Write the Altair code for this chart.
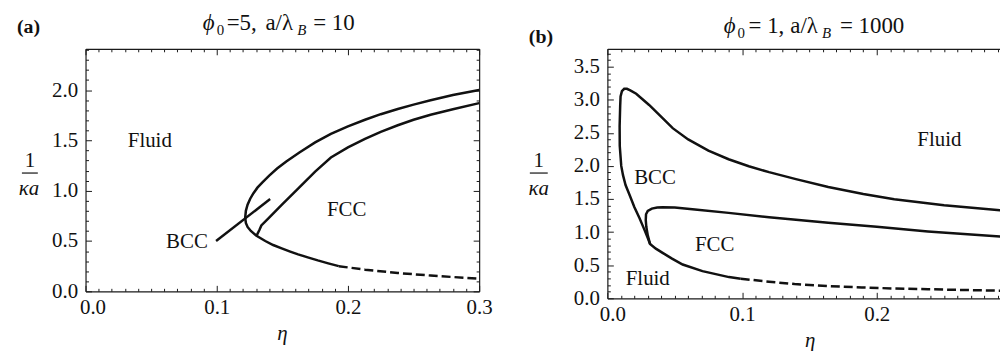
import altair as alt
import pandas as pd

SERIF = "Liberation Serif"
INK = "#111111"
FRAME = "#1a1a1a"

# ---------------- Panel (a): phi0 = 5, a/lambda_B = 10 ----------------
a_outer_eta = [0.300, 0.280, 0.263, 0.250, 0.238, 0.225, 0.213, 0.200, 0.187, 0.175,
               0.163, 0.153, 0.146, 0.140, 0.135, 0.131, 0.128, 0.1255, 0.1235, 0.1222,
               0.1217, 0.1222, 0.1235, 0.126, 0.130, 0.137, 0.143, 0.1495, 0.156, 0.162,
               0.170, 0.177, 0.185, 0.193]
a_outer_v = [2.000, 1.950, 1.898, 1.855, 1.812, 1.760, 1.705, 1.640, 1.565, 1.480,
             1.380, 1.290, 1.220, 1.150, 1.085, 1.030, 0.975, 0.920, 0.860, 0.800,
             0.733, 0.680, 0.640, 0.600, 0.555, 0.500, 0.460, 0.427, 0.395, 0.367,
             0.335, 0.307, 0.278, 0.250]
a_dash_eta = [0.193, 0.213, 0.238, 0.263, 0.280, 0.300]
a_dash_v = [0.250, 0.215, 0.182, 0.157, 0.142, 0.126]
a_inner_eta = [0.300, 0.280, 0.263, 0.250, 0.238, 0.225, 0.213, 0.200, 0.187, 0.175,
               0.162, 0.1495, 0.139, 0.134, 0.1325, 0.131, 0.1305]
a_inner_v = [1.870, 1.810, 1.755, 1.705, 1.650, 1.585, 1.515, 1.430, 1.330, 1.190,
             1.020, 0.860, 0.720, 0.655, 0.610, 0.570, 0.550]
a_bcc_eta = [0.0995, 0.1407]
a_bcc_v = [0.500, 0.917]
a_label_text = ["Fluid", "BCC", "FCC"]
a_label_eta = [0.049, 0.0773, 0.199]
a_label_v = [1.49, 0.49, 0.81]
a_xmajor = [0.0, 0.1, 0.2, 0.3]
a_ymajor = [0.0, 0.5, 1.0, 1.5, 2.0]

# ---------------- Panel (b): phi0 = 1, a/lambda_B = 1000 ----------------
b_outer_eta = [0.300, 0.2915, 0.250, 0.213, 0.190, 0.164, 0.140, 0.120, 0.105, 0.090, 0.075,
               0.060, 0.0485, 0.041, 0.031, 0.0214, 0.017, 0.0145, 0.0125, 0.0108, 0.0098,
               0.0095, 0.0091, 0.0092, 0.0103, 0.0116, 0.0135, 0.0165, 0.0200, 0.0239, 0.027,
               0.030, 0.0317, 0.036, 0.041, 0.048, 0.0559, 0.0706, 0.0903, 0.099]
b_outer_v = [1.315, 1.330, 1.405, 1.495, 1.575, 1.680, 1.800, 1.905, 1.995, 2.100, 2.230,
             2.400, 2.570, 2.720, 2.920, 3.090, 3.140, 3.165, 3.165, 3.130, 3.050,
             2.900, 2.600, 2.300, 2.000, 1.860, 1.710, 1.560, 1.380, 1.210, 1.060,
             0.910, 0.820, 0.750, 0.686, 0.600, 0.510, 0.410, 0.320, 0.295]
b_dash_eta = [0.099, 0.120, 0.139, 0.164, 0.189, 0.213, 0.238, 0.265, 0.2915, 0.300]
b_dash_v = [0.295, 0.250, 0.215, 0.185, 0.163, 0.148, 0.137, 0.125, 0.115, 0.112]
b_inner_eta = [0.0317, 0.0300, 0.0289, 0.0285, 0.0287, 0.0300, 0.0330, 0.0370, 0.0410, 0.0500,
               0.0650, 0.0900, 0.1200, 0.1640, 0.2000, 0.2380, 0.2915, 0.300]
b_inner_v = [0.820, 0.950, 1.080, 1.180, 1.270, 1.320, 1.355, 1.370, 1.375, 1.370,
             1.340, 1.290, 1.225, 1.140, 1.080, 1.010, 0.935, 0.925]
b_label_text = ["Fluid", "BCC", "FCC", "Fluid"]
b_label_eta = [0.2465, 0.0354, 0.0797, 0.030]
b_label_v = [2.387, 1.817, 0.81, 0.293]
b_xmajor = [0.0, 0.1, 0.2]
b_ymajor = [0.0, 0.5, 1.0, 1.5, 2.0, 2.5, 3.0, 3.5]

x_minor = [round(i * 0.01, 2) for i in range(1, 30) if i % 10]
a_yminor = [round(i * 0.1, 1) for i in range(1, 25) if i % 5]
b_yminor = [round(i * 0.1, 1) for i in range(1, 38) if i % 5]


def seg_df(segs):
    rows = []
    for name, es, vs in segs:
        for i, (e, v) in enumerate(zip(es, vs)):
            rows.append({"seg": name, "order": i, "eta": e, "v": v})
    return pd.DataFrame(rows)


one = pd.DataFrame({"k": [0]})


def ptext(text, x, y, size=21, style="normal", weight="normal", align="center", baseline="middle"):
    return alt.Chart(one).mark_text(
        text=text, font=SERIF, fontSize=size, fontStyle=style, fontWeight=weight,
        align=align, baseline=baseline, color=INK
    ).encode(x=alt.value(x), y=alt.value(y))


def prule(x1, x2, y, width=1.2, opacity=1.0):
    return alt.Chart(one).mark_rule(color=INK, strokeWidth=width, opacity=opacity).encode(
        x=alt.value(x1), x2=alt.value(x2), y=alt.value(y))


COMMON = dict(title=None, grid=False, domainColor=FRAME, tickColor=FRAME, tickWidth=1,
              domainWidth=1.2, labelFont=SERIF, labelFontSize=21, labelColor=INK)


def panel(solid, dashed, W, H, xdom, ydom, xmaj, xmin, ymaj, ymin, right_edge,
          lab_text, lab_eta, lab_v, zero_shift, extra):
    xs = alt.Scale(domain=xdom, nice=False, zero=False)
    ys = alt.Scale(domain=ydom, nice=False, zero=False)
    sdf = seg_df(solid)
    ddf = seg_df(dashed)

    def carrier(xaxis, yaxis):
        return alt.Chart(sdf).mark_line(strokeOpacity=0, clip=True).encode(
            x=alt.X("eta:Q", scale=xs, axis=xaxis),
            y=alt.Y("v:Q", scale=ys, axis=yaxis),
            detail="seg:N", order="order:Q")

    lab = carrier(
        alt.Axis(orient="bottom", values=xmaj, ticks=False, tickSize=0, domain=True,
                 labelPadding=5, labelFlush=False, labelOverlap=False, format=".1f",
                 labelOffset={"condition": {"test": "datum.value === 0", "value": zero_shift},
                              "value": 0}, **COMMON),
        alt.Axis(orient="left", values=ymaj, ticks=False, tickSize=0, domain=True,
                 labelPadding=8, labelOverlap=False, format=".1f", **COMMON))
    maj_in = carrier(
        alt.Axis(orient="top", offset=-H, values=xmaj, tickSize=6, labels=False,
                 domain=False, **COMMON),
        alt.Axis(orient="right", offset=-W, values=ymaj, tickSize=6, labels=False,
                 domain=False, **COMMON))
    min_in = carrier(
        alt.Axis(orient="top", offset=-H, values=xmin, tickSize=3, labels=False,
                 domain=False, **COMMON),
        alt.Axis(orient="right", offset=-W, values=ymin, tickSize=3, labels=False,
                 domain=False, **COMMON))
    maj_edge = carrier(
        alt.Axis(orient="bottom", offset=-H, values=xmaj, tickSize=6, labels=False,
                 domain=True, **COMMON),
        alt.Axis(orient="left", offset=-W, values=(ymaj if right_edge else []),
                 tickSize=6, labels=False, domain=right_edge, **COMMON))
    min_edge = carrier(
        alt.Axis(orient="bottom", offset=-H, values=xmin, tickSize=3, labels=False,
                 domain=False, **COMMON),
        alt.Axis(orient="left", offset=-W, values=(ymin if right_edge else []),
                 tickSize=3, labels=False, domain=False, **COMMON))

    curves = alt.Chart(sdf).mark_line(color=INK, strokeWidth=2.5, clip=True).encode(
        x=alt.X("eta:Q", scale=xs, axis=None),
        y=alt.Y("v:Q", scale=ys, axis=None),
        detail="seg:N", order="order:Q")
    dash = alt.Chart(ddf).mark_line(color=INK, strokeWidth=2.5, strokeDash=[9, 4],
                                    clip=True).encode(
        x=alt.X("eta:Q", scale=xs, axis=None),
        y=alt.Y("v:Q", scale=ys, axis=None),
        detail="seg:N", order="order:Q")
    ldf = pd.DataFrame({"t": lab_text, "eta": lab_eta, "v": lab_v})
    labels = alt.Chart(ldf).mark_text(font=SERIF, fontSize=21, color=INK).encode(
        x=alt.X("eta:Q", scale=xs, axis=None),
        y=alt.Y("v:Q", scale=ys, axis=None),
        text="t:N")

    layers = [lab, maj_in, min_in, maj_edge, min_edge, curves, dash, labels] + extra
    return alt.layer(*layers).resolve_axis(x="independent", y="independent").properties(
        width=W, height=H)


WA, HA = 396, 244
WB, HB = 395, 251
TS = 23
SUB = 15

extra_a = [
    prule(-78, -77, -40, width=0, opacity=0),  # layout anchor at page corner
    ptext("(a)", -69, -22, size=20, weight="bold", align="left"),
    ptext("ϕ", 118, -19, size=TS, style="italic", align="left", baseline="alphabetic"),
    ptext("0", 132, -14, size=SUB, align="left", baseline="alphabetic"),
    ptext("=5,", 142, -19, size=TS, align="left", baseline="alphabetic"),
    ptext("a/λ", 181, -19, size=TS, align="left", baseline="alphabetic"),
    ptext("B", 213, -14, size=SUB, style="italic", align="left", baseline="alphabetic"),
    ptext("= 10", 229, -19, size=TS, align="left", baseline="alphabetic"),
    ptext("1", -56, 113),
    prule(-64, -48, 125),
    ptext("κa", -57, 141, style="italic"),
    ptext("η", WA / 2, 293, style="italic", baseline="alphabetic"),
]
extra_b = [
    ptext("(b)", -79, -12, size=20, weight="bold", align="left"),
    ptext("ϕ", 117, -16, size=TS, style="italic", align="left", baseline="alphabetic"),
    ptext("0", 131, -11, size=SUB, align="left", baseline="alphabetic"),
    ptext("= 1,", 142, -16, size=TS, align="left", baseline="alphabetic"),
    ptext("a/λ", 184, -16, size=TS, align="left", baseline="alphabetic"),
    ptext("B", 216, -11, size=SUB, style="italic", align="left", baseline="alphabetic"),
    ptext("= 1000", 234, -16, size=TS, align="left", baseline="alphabetic"),
    ptext("1", -69, 113),
    prule(-78, -60, 125),
    ptext("κa", -69, 141, style="italic"),
    ptext("η", 204, 300, style="italic", baseline="alphabetic"),
]

pa = panel(
    [("outer", a_outer_eta, a_outer_v), ("inner", a_inner_eta, a_inner_v),
     ("bcc", a_bcc_eta, a_bcc_v)],
    [("dash", a_dash_eta, a_dash_v)],
    WA, HA, [0.0, 0.3], [0.0, HA / 101.25], a_xmajor, x_minor, a_ymajor, a_yminor, True,
    a_label_text, a_label_eta, a_label_v, 7, extra_a)

pb = panel(
    [("outer", b_outer_eta, b_outer_v), ("inner", b_inner_eta, b_inner_v)],
    [("dash", b_dash_eta, b_dash_v)],
    WB, HB, [0.0, WB / 1355.0], [0.0, HB / 66.6], b_xmajor, x_minor, b_ymajor, b_yminor, False,
    b_label_text, b_label_eta, b_label_v, 5, extra_b)

chart = alt.hconcat(pa, pb, spacing=129, bounds="flush").properties(
    padding=0
).configure(
    background="white", font=SERIF
).configure_axis(
    labelFont=SERIF, labelFontSize=21, labelColor=INK
).configure_text(font=SERIF).configure_view(strokeWidth=0)

chart.save("out.html", embed_options={"renderer": "svg", "actions": False})
